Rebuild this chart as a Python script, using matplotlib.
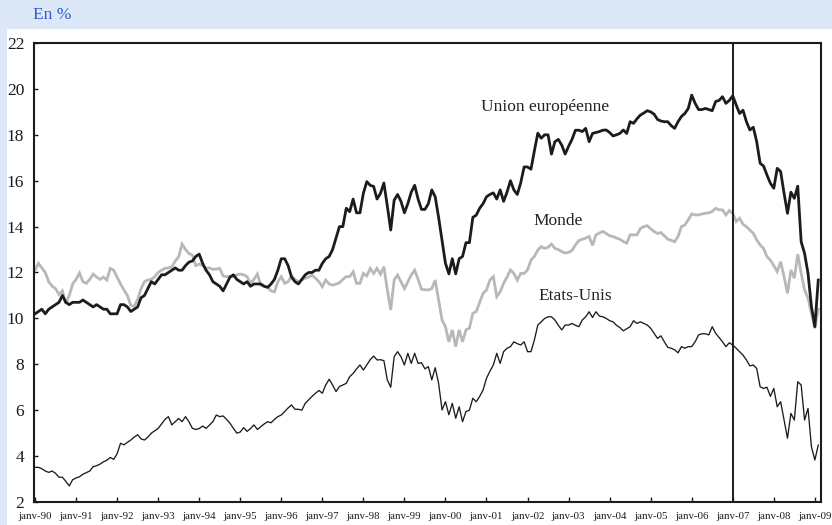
import numpy as np
import matplotlib.pyplot as plt
from matplotlib.patches import Rectangle

# Monthly values, janv-90 .. févr-09 (in %)
union_europeenne = [
    10.2, 10.3, 10.4, 10.2, 10.4, 10.5, 10.6, 10.7, 11.0, 10.7, 10.6, 10.7,
    10.7, 10.7, 10.8, 10.7, 10.6, 10.5, 10.6, 10.5, 10.4, 10.4, 10.2, 10.2,
    10.2, 10.6, 10.6, 10.5, 10.3, 10.4, 10.5, 10.9, 11.0, 11.3, 11.6, 11.5,
    11.7, 11.9, 11.9, 12.0, 12.1, 12.2, 12.1, 12.1, 12.3, 12.45, 12.5, 12.7,
    12.8, 12.4, 12.1, 11.9, 11.6, 11.5, 11.4, 11.2, 11.5, 11.8, 11.9, 11.7,
    11.6, 11.5, 11.6, 11.4, 11.5, 11.5, 11.5, 11.4, 11.35, 11.5, 11.7, 12.1,
    12.6, 12.6, 12.3, 11.8, 11.6, 11.5, 11.7, 11.9, 12.0, 12.0, 12.1, 12.1,
    12.4, 12.6, 12.7, 13.0, 13.5, 14.0, 14.0, 14.8, 14.65, 15.2, 14.6, 14.6,
    15.45, 15.96, 15.8, 15.75, 15.2, 15.45, 15.9, 14.9, 13.85, 15.15, 15.4, 15.1,
    14.6, 15.0, 15.5, 15.8, 15.2, 14.75, 14.75, 15.0, 15.6, 15.3, 14.4, 13.4,
    12.4, 11.94, 12.6, 11.94, 12.6, 12.7, 13.3, 13.3, 14.4, 14.5, 14.8, 15.0,
    15.3, 15.4, 15.47, 15.2, 15.6, 15.1, 15.5, 16.0, 15.6, 15.4, 15.9, 16.6,
    16.6, 16.5, 17.3, 18.07, 17.85, 18.0, 18.0, 17.16, 17.7, 17.8, 17.55, 17.16,
    17.5, 17.8, 18.2, 18.2, 18.14, 18.28, 17.7, 18.06, 18.1, 18.14, 18.2, 18.21,
    18.1, 17.95, 18.0, 18.06, 18.21, 18.06, 18.57, 18.5, 18.7, 18.86, 18.95, 19.05,
    19.0, 18.9, 18.67, 18.6, 18.57, 18.57, 18.4, 18.28, 18.57, 18.8, 18.93, 19.15,
    19.73, 19.37, 19.1, 19.1, 19.15, 19.1, 19.05, 19.45, 19.5, 19.66, 19.37, 19.5,
    19.7, 19.3, 18.93, 19.07, 18.57, 18.21, 18.33, 17.7, 16.76, 16.64, 16.25, 15.89,
    15.67, 16.54, 16.4, 15.45, 14.58, 15.5, 15.23, 15.76, 13.34, 12.83, 11.97, 10.52,
    9.64, 11.67,
]

monde = [
    12.1, 12.4, 12.2, 12.0, 11.6, 11.4, 11.3, 11.04, 11.2, 10.65, 11.0, 11.5,
    11.7, 11.98, 11.6, 11.53, 11.7, 11.93, 11.8, 11.7, 11.8, 11.67, 12.18, 12.1,
    11.8, 11.5, 11.24, 11.0, 10.56, 10.53, 10.82, 11.3, 11.6, 11.67, 11.7, 11.82,
    12.0, 12.1, 12.18, 12.2, 12.25, 12.5, 12.69, 13.24, 13.0, 12.83, 12.76, 12.3,
    12.37, 12.3, 12.18, 12.2, 12.14, 12.15, 12.18, 11.85, 11.82, 11.82, 11.82, 11.9,
    11.93, 11.9, 11.82, 11.53, 11.7, 11.93, 11.45, 11.4, 11.38, 11.2, 11.16, 11.6,
    11.82, 11.53, 11.6, 11.85, 11.7, 11.6, 11.67, 11.75, 11.8, 11.89, 11.75, 11.6,
    11.38, 11.67, 11.5, 11.45, 11.5, 11.55, 11.7, 11.82, 11.82, 12.03, 11.53, 11.53,
    11.96, 11.85, 12.18, 11.96, 12.18, 11.93, 12.25, 11.24, 10.37, 11.67, 11.89, 11.6,
    11.3, 11.6, 11.89, 12.1, 11.7, 11.27, 11.25, 11.24, 11.3, 11.67, 10.8, 9.93,
    9.64, 8.98, 9.5, 8.77, 9.5, 8.98, 9.5, 9.57, 10.22, 10.3, 10.7, 11.09,
    11.24, 11.67, 11.82, 10.95, 11.16, 11.53, 11.8, 12.11, 11.96, 11.67, 11.96, 11.96,
    12.11, 12.54, 12.7, 12.98, 13.13, 13.05, 13.1, 13.24, 13.05, 13.0, 12.91, 12.85,
    12.88, 12.96, 13.2, 13.39, 13.45, 13.5, 13.57, 13.18, 13.64, 13.72, 13.79, 13.7,
    13.6, 13.57, 13.5, 13.45, 13.35, 13.28, 13.64, 13.64, 13.64, 13.92, 14.0, 14.04,
    13.9, 13.79, 13.7, 13.74, 13.6, 13.45, 13.4, 13.34, 13.57, 14.0, 14.07, 14.3,
    14.55, 14.51, 14.51, 14.55, 14.58, 14.6, 14.66, 14.8, 14.73, 14.73, 14.51, 14.7,
    14.58, 14.22, 14.36, 14.1, 14.0, 13.85, 13.71, 13.42, 13.2, 13.05, 12.69, 12.54,
    12.3, 12.04, 12.47, 11.82, 11.09, 12.11, 11.75, 12.8, 11.97, 11.24, 10.88, 10.22,
    9.57, 10.4,
]

etats_unis = [
    3.51, 3.51, 3.45, 3.35, 3.29, 3.35, 3.25, 3.08, 3.08, 2.9, 2.7, 2.97,
    3.05, 3.1, 3.21, 3.28, 3.35, 3.54, 3.58, 3.65, 3.75, 3.82, 3.94, 3.86,
    4.1, 4.56, 4.49, 4.6, 4.7, 4.83, 4.93, 4.75, 4.7, 4.83, 5.0, 5.1,
    5.21, 5.4, 5.6, 5.72, 5.36, 5.5, 5.64, 5.5, 5.72, 5.5, 5.21, 5.16,
    5.2, 5.31, 5.21, 5.35, 5.5, 5.79, 5.72, 5.75, 5.6, 5.43, 5.21, 5.0,
    5.05, 5.24, 5.08, 5.2, 5.36, 5.16, 5.28, 5.4, 5.5, 5.45, 5.6, 5.72,
    5.79, 5.94, 6.1, 6.23, 6.04, 6.04, 6.0, 6.3, 6.45, 6.6, 6.74, 6.86,
    6.74, 7.1, 7.35, 7.1, 6.81, 7.03, 7.1, 7.17, 7.46, 7.6, 7.8, 7.97,
    7.75, 7.97, 8.2, 8.36, 8.19, 8.2, 8.16, 7.32, 7.0, 8.33, 8.55, 8.33,
    7.97, 8.48, 8.04, 8.48, 8.04, 8.07, 7.8, 7.9, 7.32, 7.85, 7.17, 6.01,
    6.37, 5.8, 6.3, 5.65, 6.15, 5.5, 5.94, 6.0, 6.52, 6.37, 6.6, 6.88,
    7.39, 7.7, 7.97, 8.48, 8.04, 8.55, 8.7, 8.77, 8.98, 8.9, 8.84, 8.98,
    8.55, 8.55, 9.06, 9.71, 9.85, 10.0, 10.07, 10.07, 9.93, 9.7, 9.5, 9.71,
    9.71, 9.78, 9.7, 9.64, 9.93, 10.07, 10.29, 10.04, 10.29, 10.1, 10.07, 10.0,
    9.9, 9.85, 9.7, 9.6, 9.46, 9.55, 9.64, 9.9, 9.78, 9.85, 9.78, 9.71,
    9.57, 9.35, 9.13, 9.24, 8.98, 8.74, 8.7, 8.63, 8.5, 8.77, 8.7, 8.77,
    8.77, 8.98, 9.28, 9.33, 9.33, 9.28, 9.64, 9.35, 9.17, 8.98, 8.77, 8.94,
    8.84, 8.7, 8.55, 8.4, 8.19, 7.93, 7.97, 7.82, 7.02, 6.95, 7.0, 6.6,
    6.95, 6.15, 6.37, 5.57, 4.78, 5.86, 5.57, 7.24, 7.1, 5.57, 6.08, 4.41,
    3.83, 4.48,
]

tick_labels = ["janv-%02d" % (y % 100) for y in range(1990, 2010)]
y_ticks = [2, 4, 6, 8, 10, 12, 14, 16, 18, 20, 22]
series_labels = ["Union européenne", "Monde", "Etats-Unis"]
marker_month = 204  # janv-07

months = np.arange(len(union_europeenne))

serif = ["Liberation Serif", "DejaVu Serif"]
plt.rcParams["font.family"] = serif

fig = plt.figure(figsize=(8.32, 5.25), dpi=100)
fig.patch.set_facecolor("white")
band = "#dce8f8"
fig.patches.append(Rectangle((0, 1 - 29 / 525), 1, 29 / 525, transform=fig.transFigure,
                             facecolor=band, edgecolor="none", zorder=0))
fig.patches.append(Rectangle((0, 0), 7 / 832, 1, transform=fig.transFigure,
                             facecolor=band, edgecolor="none", zorder=0))
fig.text(33 / 832, 1 - 15 / 525, "En %", color="#2a5bd7", fontsize=12.5,
         va="center", ha="left")

ax = fig.add_axes([34 / 832, 1 - 502 / 525, 787 / 832, 459 / 525])
ax.plot(months, monde, color="#b8b8b8", lw=2.0, solid_joinstyle="miter", zorder=2)
ax.plot(months, union_europeenne, color="#1c1c1c", lw=2.0, zorder=3)
ax.plot(months, etats_unis, color="#1c1c1c", lw=0.95, zorder=3)
ax.axvline(marker_month, color="#1c1c1c", lw=1.4, zorder=4)

ax.set_xlim(-0.3, 229.8)
ax.set_ylim(2, 22)
ax.set_yticks(y_ticks)
ax.set_yticklabels([str(v) for v in y_ticks])
ax.set_xticks(np.arange(0, 12 * len(tick_labels), 12))
ax.set_xticklabels(tick_labels)
ax.tick_params(axis="x", direction="in", length=3.5, width=1, labelsize=7.8,
               pad=7, colors="#1c1c1c")
ax.tick_params(axis="y", direction="in", length=3, width=1, labelsize=12.5,
               pad=7, colors="#1c1c1c")
for s in ax.spines.values():
    s.set_linewidth(1.5)
    s.set_color("#1c1c1c")

txt = dict(fontsize=12.5, color="#222222", ha="center", va="center")
ax.text(149, 19.2, series_labels[0], **txt)
ax.text(153, 14.24, series_labels[1], **txt)
ax.text(158, 10.98, series_labels[2], **txt)

fig.savefig("out.png", dpi=100)
